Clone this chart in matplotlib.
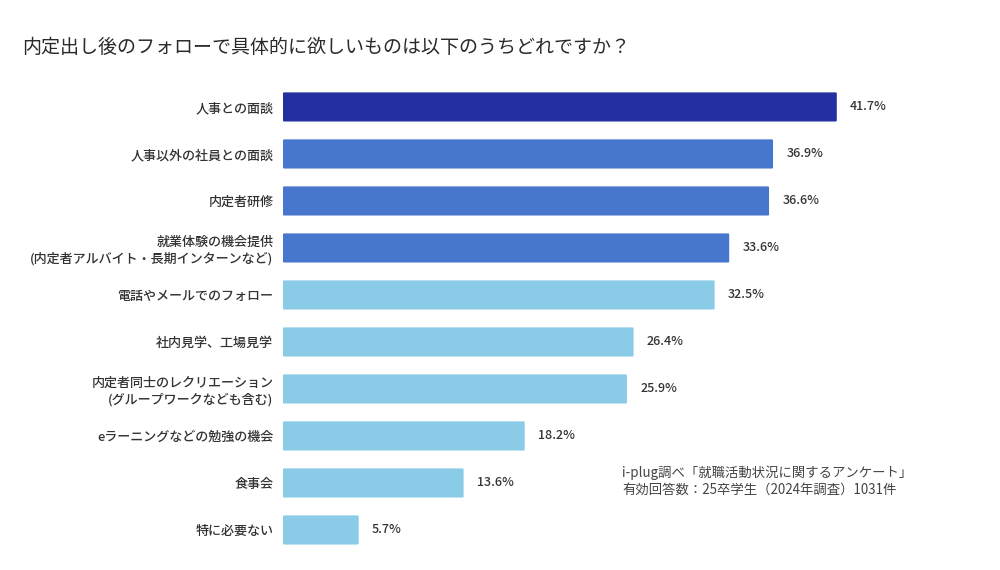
import matplotlib
matplotlib.use("Agg")
import matplotlib.pyplot as plt
from matplotlib.patches import FancyBboxPatch

plt.rcParams['font.family'] = ['Noto Sans CJK JP', 'DejaVu Sans']

# survey answers, top to bottom
labels = [
    "人事との面談",
    "人事以外の社員との面談",
    "内定者研修",
    "就業体験の機会提供\n(内定者アルバイト・長期インターンなど)",
    "電話やメールでのフォロー",
    "社内見学、工場見学",
    "内定者同士のレクリエーション\n(グループワークなども含む)",
    "eラーニングなどの勉強の機会",
    "食事会",
    "特に必要ない",
]
values = [41.7, 36.9, 36.6, 33.6, 32.5, 26.4, 25.9, 18.2, 13.6, 5.7]
groups = ["top", "mid", "mid", "mid", "low", "low", "low", "low", "low", "low"]

palette = {"top": "#2430a0", "mid": "#4677cc", "low": "#8acbe8"}
colors = [palette[g] for g in groups]

fig = plt.figure(figsize=(10, 5.7), dpi=100)
ax = fig.add_axes([0.283, 0.029, 0.664, 0.8246])

ypos = list(range(len(values)))
bars = ax.barh(ypos, values, height=0.62, color=colors)

# swap the plain rectangles for slightly rounded ones
for b in bars:
    x0, y0 = b.get_x(), b.get_y()
    w, h = b.get_width(), b.get_height()
    b.set_visible(False)
    ax.add_patch(FancyBboxPatch((x0, y0), w, h,
                                boxstyle="round,pad=0,rounding_size=0.12",
                                mutation_aspect=1 / 7.5,
                                facecolor=b.get_facecolor(), edgecolor="none"))

ax.set_ylim(len(values) - 0.5, -0.5)
ax.set_xlim(0, 50)

ax.set_yticks(ypos)
ax.set_yticklabels(labels, fontsize=9.4, color="#333333", linespacing=1.25,
                   fontweight="medium")
ax.tick_params(axis="y", length=0, pad=7)
ax.set_xticks([])
for s in ax.spines.values():
    s.set_visible(False)

# value labels right of each bar
for y, v in zip(ypos, values):
    ax.text(v + 1.0, y, f"{v}%", va="center", ha="left", fontsize=9,
            color="#333333", fontweight="medium")

fig.text(0.022, 0.916, "内定出し後のフォローで具体的に欲しいものは以下のうちどれですか？",
         fontsize=13.7, color="#2a2a2a", va="center", ha="left")

fig.text(0.622, 0.156, "i-plug調べ「就職活動状況に関するアンケート」\n有効回答数：25卒学生（2024年調査）1031件",
         fontsize=9.6, color="#444444", va="center", ha="left", linespacing=1.3)

fig.savefig("out.png", dpi=100, facecolor="white")
